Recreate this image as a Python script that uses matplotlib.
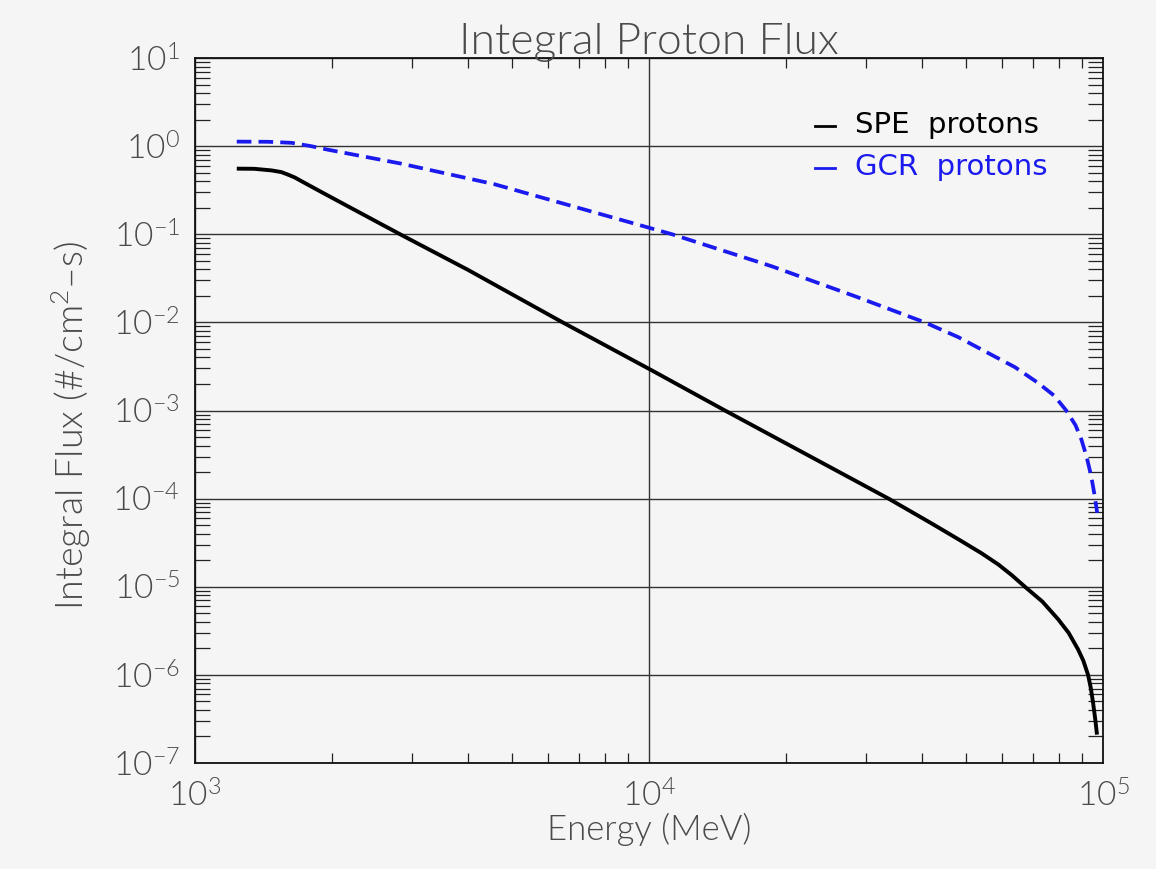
import matplotlib
matplotlib.use("Agg")
import matplotlib.pyplot as plt
from matplotlib.lines import Line2D
from matplotlib.ticker import LogLocator, LogFormatterMathtext, NullFormatter

plt.rcParams['font.family'] = ['Lato', 'DejaVu Sans']
plt.rcParams['font.weight'] = 300
plt.rcParams['mathtext.fontset'] = 'custom'
plt.rcParams['mathtext.rm'] = 'Lato:weight=300'
plt.rcParams['mathtext.it'] = 'Lato:weight=300'
plt.rcParams['mathtext.sf'] = 'Lato:weight=300'

# ---- data ----
energy_spe = [1236, 1350, 1475, 1550, 1604, 1660, 1716, 1897, 2174, 2844, 3990, 6453,
              10160, 14700, 33700, 42000, 48800, 54000, 58800, 63000, 67300, 73500,
              79700, 84000, 88100, 90500, 92700, 94000, 95100, 96100, 97000]
flux_spe = [0.555, 0.553, 0.53, 0.507, 0.474, 0.44, 0.40, 0.302, 0.207, 0.0986, 0.0395,
            0.01, 2.84e-3, 1e-3, 1e-4, 5.2e-5, 3.29e-5, 2.4e-5, 1.79e-5, 1.35e-5, 1e-5,
            6.8e-6, 4.26e-6, 3.0e-6, 1.95e-6, 1.45e-6, 1e-6, 7.1e-7, 4.8e-7, 3.2e-7, 2.1e-7]

energy_gcr = [1236, 1450, 1632, 1800, 1964, 2844, 4562, 6723, 10090, 11240, 18660, 28500,
              40500, 48000, 55800, 64000, 71900, 78000, 83000, 87000, 89600, 92000,
              94200, 95800, 97100]
flux_gcr = [1.125, 1.12, 1.09, 1.0, 0.91, 0.633, 0.37, 0.211, 0.117, 0.1, 0.0432, 0.0197,
            0.01, 6.8e-3, 4.5e-3, 3.1e-3, 2.06e-3, 1.48e-3, 1e-3, 6.8e-4, 4.7e-4, 3.0e-4,
            1.8e-4, 1.1e-4, 6.9e-5]

series_labels = ["SPE protons", "GCR protons"]
series_colors = ["black", "#1a1aee"]

title = "Integral Proton Flux"
xlabel = "Energy (MeV)"
ylabel = "Integral Flux (#/cm$^2$\u2013s)"

bg = "#f5f5f5"
txt = "#4a4a4a"
wt = 300

W, H = 1156, 869
fig = plt.figure(figsize=(W / 100, H / 100), dpi=100, facecolor=bg)
ax = fig.add_axes([195 / W, 1 - 763 / H, (1103 - 195) / W, (763 - 58) / H])
ax.set_facecolor(bg)

ax.plot(energy_spe, flux_spe, color=series_colors[0], lw=2.8, solid_capstyle='butt',
        solid_joinstyle='round')
ax.plot(energy_gcr, flux_gcr, color=series_colors[1], lw=2.7, dashes=(3.9, 1.9))

ax.set_xscale('log')
ax.set_yscale('log')
ax.set_xlim(1e3, 1e5)
ax.set_ylim(1e-7, 1e1)

ax.xaxis.set_major_locator(LogLocator(base=10, numticks=10))
ax.yaxis.set_major_locator(LogLocator(base=10, numticks=20))
ax.xaxis.set_minor_locator(LogLocator(base=10, subs=range(2, 10), numticks=20))
ax.yaxis.set_minor_locator(LogLocator(base=10, subs=range(2, 10), numticks=20))
ax.xaxis.set_major_formatter(LogFormatterMathtext())
ax.yaxis.set_major_formatter(LogFormatterMathtext())
ax.xaxis.set_minor_formatter(NullFormatter())
ax.yaxis.set_minor_formatter(NullFormatter())

ax.grid(True, which='major', color='#333333', lw=1.0)
ax.tick_params(which='major', length=0, labelsize=24, labelcolor=txt)
ax.tick_params(axis='x', which='major', pad=12)
ax.tick_params(axis='y', which='major', pad=11)
ax.tick_params(axis='x', which='minor', direction='in', length=7.5, width=0.9,
               top=True, bottom=True, color='#222222')
ax.tick_params(axis='y', which='minor', direction='in', length=10.5, width=0.9,
               left=True, right=True, color='#222222')
for lab in ax.get_xticklabels() + ax.get_yticklabels():
    lab.set_fontweight(wt)

for s in ax.spines.values():
    s.set_color('#111111')
    s.set_linewidth(1.3)

ax.set_title(title, fontsize=32, color=txt, fontweight=wt, pad=3)
ax.set_xlabel(xlabel, fontsize=25, color=txt, fontweight=wt, labelpad=0)
ax.set_ylabel(ylabel, fontsize=27, color=txt, fontweight=wt)
ax.yaxis.set_label_coords((93 - 195) / 908, (763 - 425) / 705)

# legend drawn as text + short line like the reference
leg_y = [125, 167]
for lbl, col, yy in zip(series_labels, series_colors, leg_y):
    fig.add_artist(Line2D([815 / W, 835 / W], [1 - (yy + 1) / H] * 2, color=col, lw=2.0,
                          transform=fig.transFigure))
    fig.text(855 / W, 1 - yy / H, lbl.replace(" ", "  "), color=col, fontsize=21,
             family='DejaVu Sans', fontweight='normal', ha='left', va='center')

fig.savefig("out.png", dpi=100, facecolor=bg)
